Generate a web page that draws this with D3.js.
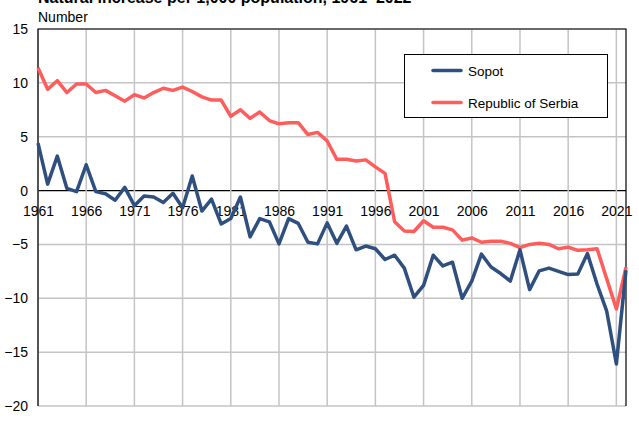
<!DOCTYPE html>
<html>
<head>
<meta charset="utf-8">
<script src="https://cdn.jsdelivr.net/npm/d3@7"></script>
<style>
  body { margin: 0; background: #fff; }
  text { font-family: "Liberation Sans", Arial, sans-serif; }
</style>
</head>
<body>
<div id="chart"></div>
<script>
// data
var years = d3.range(1961, 2023);
var sopot = [4.4, 0.6, 3.2, 0.2, -0.1, 2.4, -0.1, -0.3, -0.9, 0.3,
  -1.4, -0.5, -0.6, -1.1, -0.25, -1.6, 1.35, -1.9, -0.8, -3.1,
  -2.6, -0.6, -4.3, -2.6, -2.9, -4.95, -2.6, -3.05, -4.8, -4.95,
  -3.0, -4.9, -3.3, -5.5, -5.15, -5.4, -6.4, -6.0, -7.2, -9.9,
  -8.8, -6.0, -7.0, -6.65, -10.0, -8.4, -5.9, -7.1, -7.7, -8.4,
  -5.5, -9.2, -7.45, -7.2, -7.5, -7.8, -7.75, -5.85, -8.7, -11.2,
  -16.1, -7.4];
var serbia = [11.4, 9.4, 10.2, 9.1, 9.9, 9.9, 9.1, 9.3, 8.8, 8.3,
  8.9, 8.6, 9.1, 9.5, 9.3, 9.6, 9.2, 8.7, 8.4, 8.4,
  6.9, 7.5, 6.7, 7.3, 6.5, 6.2, 6.3, 6.3, 5.2, 5.4,
  4.6, 2.9, 2.9, 2.75, 2.85, 2.2, 1.6, -2.9, -3.75, -3.8,
  -2.8, -3.4, -3.4, -3.65, -4.6, -4.4, -4.8, -4.7, -4.7, -4.9,
  -5.3, -5.0, -4.9, -5.0, -5.4, -5.25, -5.55, -5.5, -5.4, -8.2,
  -11.0, -7.1];
var xTicks = d3.range(1961, 2022, 5);
var yTicks = d3.range(-20, 16, 5);

var svgWidth = 639;
var svgHeight = 428;

var svg = d3.select("#chart")
    .append("svg")
    .attr("width", svgWidth)
    .attr("height", svgHeight);

var x = d3.scaleLinear().domain([1961, 2022]).range([38, 626]);
var y = d3.scaleLinear().domain([-20, 15]).range([406, 29]);

// title (cut off at top like the reference)
svg.append("text")
    .attr("x", 38)
    .attr("y", 3)
    .attr("font-size", "16px")
    .attr("font-weight", "bold")
    .text("Natural increase per 1,000 population, 1961–2022");

svg.append("text")
    .attr("x", 38)
    .attr("y", 22)
    .attr("font-size", "14px")
    .text("Number");

// grid
svg.append("g")
    .selectAll("line")
    .data(yTicks)
    .enter()
    .append("line")
    .attr("x1", x(1961))
    .attr("x2", x(2022))
    .attr("y1", function(d) { return y(d); })
    .attr("y2", function(d) { return y(d); })
    .attr("stroke", function(d) { return d === 0 ? "#000" : "#c4c4c4"; })
    .attr("stroke-width", function(d) { return d === 0 ? 1.2 : 1.5; });

svg.append("g")
    .selectAll("line")
    .data(xTicks)
    .enter()
    .append("line")
    .attr("x1", function(d) { return x(d); })
    .attr("x2", function(d) { return x(d); })
    .attr("y1", y(15))
    .attr("y2", y(-20))
    .attr("stroke", "#c4c4c4")
    .attr("stroke-width", 1.5);

// frame
svg.append("path")
    .attr("d", "M" + x(1961) + "," + y(-20) + "V" + y(15) + "H" + x(2022) + "V" + y(-20))
    .attr("fill", "none")
    .attr("stroke", "#000")
    .attr("stroke-width", 1.2);

// y axis labels
var yAxis = d3.axisLeft(y).tickValues(yTicks).tickSize(0).tickPadding(10);
var yg = svg.append("g")
    .attr("transform", "translate(" + x(1961) + ",0)")
    .call(yAxis);
yg.select(".domain").remove();
yg.selectAll("text").attr("font-size", "14px").attr("fill", "#000")
    .style("font-family", "'Liberation Sans', Arial, sans-serif");

// x axis labels under the zero line
var xAxis = d3.axisBottom(x).tickValues(xTicks).tickFormat(d3.format("d")).tickSize(0).tickPadding(15);
var xg = svg.append("g")
    .attr("transform", "translate(0," + y(0) + ")")
    .call(xAxis);
xg.select(".domain").remove();
xg.selectAll("text").attr("font-size", "14px").attr("fill", "#000")
    .style("font-family", "'Liberation Sans', Arial, sans-serif");

// lines
var line = function(vals) {
    return d3.line()
        .x(function(d, i) { return x(years[i]); })
        .y(function(d) { return y(d); })(vals);
};

svg.append("path")
    .attr("d", line(serbia))
    .attr("fill", "none")
    .attr("stroke", "#ff5c5c")
    .attr("stroke-width", 3.5)
    .attr("stroke-linejoin", "round");

svg.append("path")
    .attr("d", line(sopot))
    .attr("fill", "none")
    .attr("stroke", "#2f4f7f")
    .attr("stroke-width", 3.5)
    .attr("stroke-linejoin", "round");

// legend
var legend = svg.append("g");
legend.append("rect")
    .attr("x", 404.5)
    .attr("y", 54.5)
    .attr("width", 203)
    .attr("height", 63)
    .attr("fill", "#fff")
    .attr("stroke", "#000")
    .attr("stroke-width", 1);

var legendItems = [
    { name: "Sopot", color: "#2f4f7f" },
    { name: "Republic of Serbia", color: "#ff5c5c" }
];
legendItems.forEach(function(d, i) {
    var ly = 70.5 + i * 32;
    legend.append("line")
        .attr("x1", 433).attr("x2", 461)
        .attr("y1", ly).attr("y2", ly)
        .attr("stroke", d.color)
        .attr("stroke-width", 3.5)
        .attr("stroke-linecap", "round");
    legend.append("text")
        .attr("x", 468)
        .attr("y", ly + 5)
        .attr("font-size", "13.5px")
        .text(d.name);
});
</script>
</body>
</html>
